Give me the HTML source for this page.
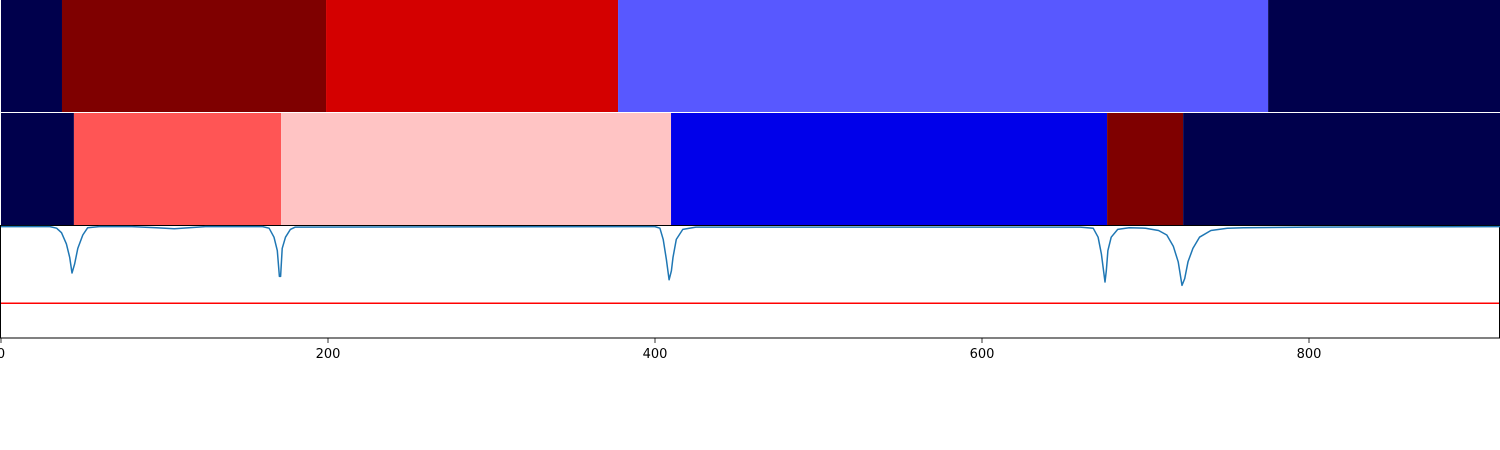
<!DOCTYPE html>
<html><head><meta charset="utf-8"><style>
html,body{margin:0;padding:0;background:#fff;}
svg{display:block;font-family:"DejaVu Sans","Liberation Sans",sans-serif;}
</style></head><body>
<svg id="chart" width="1500" height="450" xmlns="http://www.w3.org/2000/svg">
<g id="bands"></g>
<rect x="0.5" y="225.5" width="1499" height="112.5" fill="#fff" stroke="#000" stroke-width="1"/>
<g id="plot"></g>
<g id="axis"></g>
</svg>
<script>
const xTicks = [0, 200, 400, 600, 800];
const row1Starts = [0, 37.3, 198.8, 377.4, 775];
const row1Ends = [37.3, 198.8, 377.4, 775, 918];
const row1Colors = ["#00004c", "#7f0000", "#d40000", "#5858ff", "#00004c"];
const row2Starts = [0, 44.6, 171.3, 409.8, 676.5, 723];
const row2Ends = [44.6, 171.3, 409.8, 676.5, 723, 918];
const row2Colors = ["#00004c", "#ff5555", "#ffc4c4", "#0000ea", "#7f0000", "#00004c"];
const signalX = [0,30,34,37,40,42,43.4,45,47,50,53,60,80,95,106,115,125,160,164,167,169,170.3,171,172,174,177,180,400,403,405,407,408.6,410,411,413,417,425,660,668,671,673,675.2,676,677,679,683,690,700,708,713,717,720,722.3,724,726,729,733,740,750,760,800,917];
const signalY = [0.995,0.995,0.98,0.94,0.84,0.72,0.58,0.66,0.8,0.92,0.985,0.995,0.995,0.985,0.975,0.985,0.995,0.995,0.98,0.9,0.78,0.55,0.55,0.8,0.9,0.97,0.99,0.995,0.98,0.88,0.7,0.52,0.6,0.72,0.88,0.97,0.99,0.99,0.98,0.9,0.75,0.5,0.6,0.78,0.9,0.97,0.985,0.98,0.96,0.92,0.82,0.68,0.47,0.53,0.68,0.8,0.9,0.96,0.98,0.985,0.99,0.995];
const threshold = [0.31];

const NS="http://www.w3.org/2000/svg";
const sx = v => 1 + v * 1.635;
const sy = v => 338 - v * 112;
function mk(tag, attrs, parent){const e=document.createElementNS(NS,tag);for(const k in attrs)e.setAttribute(k,attrs[k]);parent.appendChild(e);return e;}
const bands=document.getElementById('bands');
function drawRow(starts, ends, colors, y0, h, name){
  for(let i=0;i<starts.length;i++){
    const x1=Math.max(0,sx(starts[i])), x2=Math.min(1500,sx(ends[i]));
    const r=mk('rect',{x:x1,y:y0,width:x2-x1,height:h,fill:colors[i]},bands);
    
    
  }
}
drawRow(row1Starts,row1Ends,row1Colors,0,112,'row1');
drawRow(row2Starts,row2Ends,row2Colors,113,112,'row2');
const plot=document.getElementById('plot');
const th=mk('line',{x1:1,x2:1499,y1:sy(threshold[0]),y2:sy(threshold[0]),stroke:'#ff0000','stroke-width':1.5},plot);


let d='';
for(let i=0;i<signalX.length;i++){d+=(i?'L':'M')+sx(signalX[i]).toFixed(1)+','+sy(signalY[i]).toFixed(1);}
const p=mk('path',{d:d,fill:'none',stroke:'#1f77b4','stroke-width':1.5,'stroke-linejoin':'round'},plot);


const axis=document.getElementById('axis');
for(const t of xTicks){
  const x=sx(t);
  const l=mk('line',{x1:x,x2:x,y1:338,y2:343,stroke:'#000','stroke-width':0.8},axis);
  
  
  const tx=mk('text',{x:x,y:358,'text-anchor':'middle','font-size':13,fill:'#000'},axis);
  tx.textContent=t;
  
  
}
</script>
</body></html>
